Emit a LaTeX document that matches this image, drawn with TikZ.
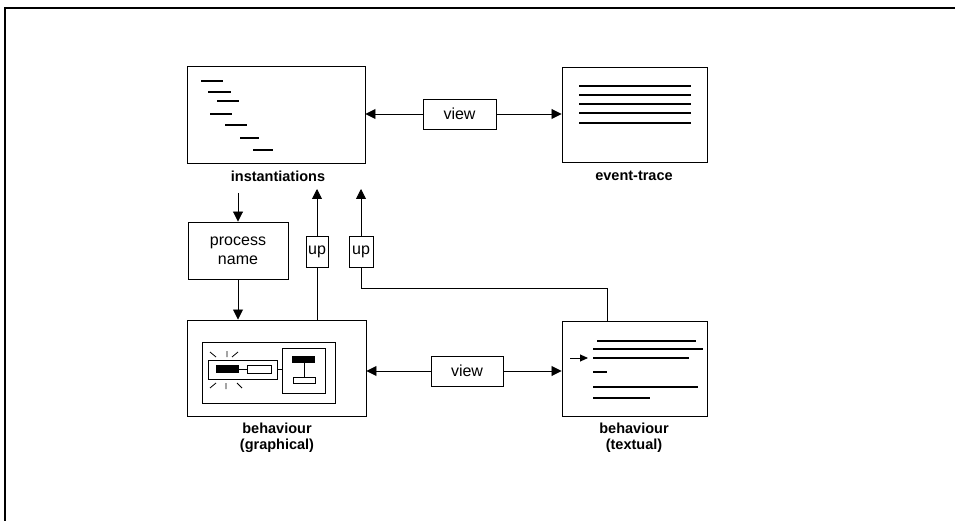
\documentclass[tikz,border=0pt]{standalone}
\usepackage{fontspec}
\setmainfont{Liberation Sans}
\usetikzlibrary{arrows.meta}
\begin{document}
\begin{tikzpicture}[x=1pt,y=-1pt,
  panel/.style={draw,line width=0.95pt,inner sep=0pt},
  tag/.style={draw,line width=0.9pt,inner sep=0pt,font=\fontsize{16}{18}\selectfont},
  caption/.style={font=\bfseries\fontsize{14.5}{16}\selectfont,align=center,inner sep=0pt},
  link/.style={line width=0.9pt},
  tip/.style={link,-{Triangle[length=10pt,width=10pt]}},
  bar/.style={line width=2.4pt},
  thin bar/.style={line width=1.2pt}]
\useasboundingbox (0,0) rectangle (955,521);
% page frame (top and left edges)
\draw[line width=1.3pt] (5,521) -- (5,8) -- (955,8);

% main panels
\node[panel,minimum width=178pt,minimum height=97pt] (inst) at (276,114.5) {};
\node[panel,minimum width=145pt,minimum height=95pt] (evt)  at (634.5,114.5) {};
\node[panel,minimum width=179pt,minimum height=96pt] (gra)  at (276.5,368) {};
\node[panel,minimum width=145pt,minimum height=95pt] (txt)  at (634.5,368.5) {};

% captions
\node[caption] (instcap) at (278,176) {instantiations};
\node[caption] (evtcap)  at (634,176) {event-trace};
\node[caption] (gracap)  at (277,438) {behaviour\\(graphical)};
\node[caption] (txtcap)  at (634,438) {behaviour\\(textual)};

% small labelled boxes
\node[tag,minimum width=73pt,minimum height=30pt] (view1) at (459.5,114) {view};
\node[tag,minimum width=72pt,minimum height=30pt] (view2) at (467,371) {view};
\node[tag,minimum width=100pt,minimum height=57pt,align=center,
      font=\fontsize{16}{19}\selectfont] (pname) at (238,250.5) {process\\name};
\node[tag,minimum width=22pt,minimum height=31pt] (up1) at (317,251.5) {up};
\node[tag,minimum width=24pt,minimum height=31pt] (up2) at (361,251.5) {up};

% connectors
\draw[tip] (view1.west) -- (inst.east |- view1.west);
\draw[tip] (view1.east) -- (evt.west |- view1.east);
\draw[tip] (view2.west) -- (gra.east |- view2.west);
\draw[tip] (view2.east) -- (txt.west |- view2.east);

\coordinate (pin) at (238,193);
\draw[tip] (pin) -- (pname.north);
\draw[tip] (pname.south) -- (pname.south |- gra.north);

\coordinate (up1top) at (317,189);
\draw[link] (up1.south) -- (up1.south |- gra.north);
\draw[tip] (up1.north) -- (up1top);

\coordinate (up2top) at (361,189);
\coordinate (bend) at (607,288);
\draw[link] (bend |- txt.north) -- (bend) -- (up2.south |- bend) -- (up2.south);
\draw[tip] (up2.north) -- (up2top);

% instantiation bars
\foreach \a/\b/\y in {201/223/81, 208/231/92, 217/239/101, 210/232/114,
                      225/247/125, 240/259/138, 253/273/150}
  \draw[bar] (\a,\y) -- (\b,\y);

% event-trace lines
\foreach \y in {86,95,104,113,123}
  \draw[bar] (579,\y) -- (691,\y);

% textual behaviour lines
\draw[bar] (597,341) -- (696,341);
\draw[thin bar] (593,349) -- (703,349);
\draw[bar] (593,358) -- (689,358);
\draw[bar] (593,372) -- (607,372);
\draw[bar] (593,387) -- (698,387);
\draw[bar] (593,398) -- (650,398);
\draw[link,-{Triangle[length=8pt,width=7pt]}] (570,358) -- (588,358);

% graphical behaviour: nested boxes
\draw[line width=1pt] (202,342) rectangle (335,403);
\draw[line width=1pt] (208,360) rectangle (277,379);
\draw[line width=1pt] (282,348) rectangle (325,393);
\fill (216,365) rectangle (239,373);
\draw[line width=0.8pt] (247,365) rectangle (271,373);
\draw[line width=0.8pt] (239,369) -- (247,369);
\draw[line width=0.8pt] (277,369) -- (282,369);
\fill (292,356) rectangle (315,363);
\draw[line width=0.8pt] (293,377) rectangle (315,383);
\draw[line width=0.8pt] (304,363) -- (304,377);
% highlight rays round the selected element
\draw[line width=0.8pt]
  (210,352) -- (216,357)  (227,351) -- (227,357)  (238,352) -- (232,357)
  (216,383) -- (210,388)  (226,383) -- (226,389)  (237,383) -- (242,388);
\end{tikzpicture}
\end{document}
